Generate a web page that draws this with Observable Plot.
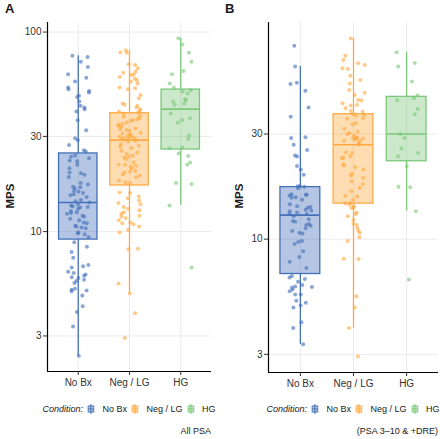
<!DOCTYPE html>
<html><head><meta charset="utf-8">
<script src="https://cdn.jsdelivr.net/npm/d3@7"></script>
<script src="https://cdn.jsdelivr.net/npm/@observablehq/plot@0.6"></script>
<style>
body{margin:0;background:#fff;font-family:"Liberation Sans",Arial,Helvetica,sans-serif;color:#1a1a1a}
#wrap{position:relative;width:440px;height:439px;overflow:hidden}
.panel{position:absolute;top:0;width:220px;height:439px}
.panel svg{position:absolute;left:0;top:0}
.tag{position:absolute;left:5px;top:1px;font-weight:bold;font-size:13px}
.ylab{position:absolute;top:196px;font-weight:bold;font-size:11.5px;transform:translate(-50%,-50%) rotate(-90deg);white-space:nowrap}
.legend{position:absolute;top:404px;transform:translateX(-50%);font-size:9px;white-space:nowrap;display:flex;align-items:center}
.legend i{font-style:italic}
.legend svg{position:static;margin:0 8px 0 4.5px}
.caption{position:absolute;top:426px;font-size:9px;white-space:nowrap}
</style></head>
<body><div id="wrap"></div>
<script>
const categories = ["No Bx", "Neg / LG", "HG"];
const colors = ["#4470B9", "#FFA940", "#7CC87A"];
const yTicksA = [3, 10, 30, 100];
const yTicksB = [3, 10, 30];
const captions = ["All PSA", "(PSA 3–10 & +DRE)"];

// Panel A (All PSA) — MPS values
const aNoBx = [76, 75, 71.1, 66.8, 61.4, 59.1, 56.5, 52.7, 51.7, 50.7, 49.8, 47.9, 47.3, 44.9, 42.7, 41.9, 41.0, 40.0, 36.1, 32.2,
  29.4, 28.7, 27.2, 25.6, 25.2, 24.1, 23.7, 23.3, 22.7, 22.5, 21.6, 20.8, 19.8, 19.6, 19.3, 18.8, 17.5, 17.2, 16.8, 16.7,
  16.5, 16.0, 15.9, 15.6, 15.4, 15.2, 14.9, 14.4, 14.2, 14.0, 13.7, 13.5, 13.4, 13.3, 13.2, 13.0, 12.7, 12.5, 12.4, 12.3,
  12.0, 11.9, 11.6, 11.4, 11.1, 11.0, 10.7, 10.6, 10.5, 10.4, 9.9, 9.8, 9.7, 9.4, 8.85, 8.4, 7.9, 7.4, 6.8, 6.7,
  6.6, 6.3, 6.2, 6.1, 6.0, 5.9, 5.86, 5.73, 5.65, 5.52, 5.17, 5.11, 5.07, 5.03, 4.79, 4.22, 3.95, 3.35, 2.39];
const aNegLG = [81.0, 79.1, 78.8, 68.9, 68.4, 65.8, 63.4, 62.6, 61.4, 60.9, 59.6, 58.6, 57.3, 56.5, 55.2, 52.7, 52.3, 51.7, 48.4, 46.6,
  43.8, 43.2, 42.7, 41.9, 41.0, 40.3, 40.0, 39.5, 39.1, 38.0, 37.6, 37.0, 36.6, 36.1, 35.9, 35.2, 34.6, 34.3, 33.9, 33.5,
  33.0, 32.6, 32.3, 32.0, 31.3, 31.0, 30.8, 30.5, 30.2, 30.0, 29.9, 29.6, 29.4, 29.2, 29.1, 29.0, 28.5, 28.3, 27.4, 26.9,
  26.6, 26.2, 25.4, 24.9, 24.5, 24.0, 23.7, 23.5, 23.1, 22.2, 21.6, 21.6, 21.4, 21.1, 20.8, 20.2, 20.0, 19.8, 19.4, 19.1,
  18.7, 18.0, 17.7, 17.5, 15.7, 15.6, 15.0, 14.7, 14.3, 13.9, 13.7, 13.3, 13.0, 12.8, 12.5, 12.3, 12.0, 11.9, 11.7, 11.4,
  11.1, 11.0, 10.9, 10.6, 10.2, 9.9, 8.2, 8.15, 5.5, 4.9, 3.9, 2.93];
const aHG = [93.0, 86.7, 78.8, 71.1, 63.8, 61.4, 55.2, 52.7, 51.1, 50.4, 49.2, 46.0, 45.5, 44.9, 43.8, 43.2, 39.1, 37.0, 36.1, 35.2,
  30.2, 29.1, 26.4, 26.2, 24.6, 23.9, 22.2, 21.6, 17.5, 17.3, 13.5, 6.6];

// Panel B (PSA 3–10 & +DRE)
const bNoBx = [75.5, 60.8, 51.3, 50.6, 47.1, 39.6, 35.9, 29.0, 28.8, 26.8, 25.4, 24.0, 23.7, 21.5, 20.7, 19.6, 17.4, 17.4, 17.3, 17.0,
  16.0, 15.9, 15.9, 15.8, 15.5, 15.4, 15.1, 14.4, 14.1, 14.0, 13.9, 13.6, 13.5, 13.4, 13.2, 13.0, 13.0, 12.7, 12.3, 12.1,
  12.0, 11.7, 11.6, 11.5, 11.2, 10.9, 10.7, 10.6, 9.8, 9.7, 9.5, 8.8, 8.3, 7.9, 7.4, 6.8, 6.7, 6.6, 6.4, 6.2,
  6.1, 6.07, 6.03, 5.9, 5.8, 5.6, 5.6, 5.25, 5.15, 5.0, 4.9, 4.2, 3.95, 3.33];
const bNegLG = [81.5, 68.0, 65.1, 62.8, 61.7, 59.6, 59.2, 55.2, 52.8, 50.9, 47.5, 46.2, 45.1, 42.8, 42.6, 41.4, 40.7, 40.4, 39.3, 38.2,
  37.9, 36.9, 36.6, 36.4, 35.4, 35.2, 33.6, 33.2, 31.7, 30.8, 30.3, 30.0, 29.6, 28.9, 28.8, 28.6, 28.6, 28.6, 28.3, 27.96,
  27.8, 27.3, 26.8, 24.8, 24.6, 23.8, 23.5, 23.3, 21.8, 21.6, 21.2, 20.7, 19.8, 19.5, 19.0, 18.3, 17.8, 17.1, 16.5, 15.7,
  15.6, 15.1, 14.6, 14.5, 14.4, 14.1, 13.9, 13.9, 13.2, 13.0, 12.7, 12.2, 11.7, 11.6, 11.2, 10.9, 10.7, 10.2, 9.8, 8.15,
  8.13, 5.5, 4.9, 3.95, 2.93];
const bHG = [70.5, 63.0, 60.8, 51.9, 44.9, 43.6, 42.7, 39.0, 36.9, 30.0, 28.8, 25.8, 24.6, 23.8, 21.4, 17.3, 17.2, 13.4, 6.55];

function boxStats(vals) {
  const l = vals.map(Math.log10).sort(d3.ascending);
  const q1 = d3.quantileSorted(l, 0.25), med = d3.quantileSorted(l, 0.5), q3 = d3.quantileSorted(l, 0.75);
  const iqr = q3 - q1;
  const lo = d3.min(l.filter(v => v >= q1 - 1.5 * iqr)), hi = d3.max(l.filter(v => v <= q3 + 1.5 * iqr));
  return {q1: 10 ** q1, median: 10 ** med, q3: 10 ** q3, lo: 10 ** lo, hi: 10 ** hi};
}

function panel(groups, ticks, m, seed) {
  const rng = d3.randomLcg(seed);
  const pts = [], stats = [];
  groups.forEach((vals, i) => {
    vals.forEach(v => pts.push({i, v, jx: (rng() * 2 - 1) * 0.22}));
    stats.push({i, ...boxStats(vals)});
  });
  const all = groups.flat().map(Math.log10);
  const [lmin, lmax] = d3.extent(all);
  const pad = (lmax - lmin) * 0.05;
  const ydom = [10 ** (lmin - pad), 10 ** (lmax + pad)];
  const col = d => colors[d.i];
  return Plot.plot({
    width: 220, height: 395,
    marginLeft: m.left, marginRight: m.right, marginTop: 22, marginBottom: m.bottom,
    x: {domain: [-0.6, 2.6]},
    y: {type: "log", domain: ydom},
    color: {type: "identity"},
    style: {fontFamily: "Liberation Sans, Arial, sans-serif", fontSize: "10px", background: "transparent", color: "#333", overflow: "visible"},
    marks: [
      Plot.ruleY(ticks, {stroke: "#ebebeb", strokeWidth: 1}),
      Plot.ruleX([0, 1, 2], {stroke: "#ebebeb", strokeWidth: 1}),
      Plot.ruleX(stats, {x: "i", y1: "lo", y2: "q1", stroke: col, strokeWidth: 1.3}),
      Plot.ruleX(stats, {x: "i", y1: "q3", y2: "hi", stroke: col, strokeWidth: 1.3}),
      Plot.rect(stats, {x1: d => d.i - 0.375, x2: d => d.i + 0.375, y1: "q1", y2: "q3", fill: col, fillOpacity: 0.4, stroke: col, strokeWidth: 1.3}),
      Plot.ruleY(stats, {y: "median", x1: d => d.i - 0.375, x2: d => d.i + 0.375, stroke: col, strokeWidth: 1.6}),
      Plot.dot(pts, {x: d => d.i + d.jx, y: "v", r: 2, fill: col, fillOpacity: 0.62, stroke: null}),
      Plot.ruleX([-0.6], {stroke: "#000", strokeWidth: 1.2}),
      Plot.ruleY([ydom[0]], {stroke: "#000", strokeWidth: 1.2}),
      Plot.axisY(ticks, {tickFormat: d => String(d), tickSize: 4, tickPadding: 2, label: null, color: "#333"}),
      Plot.axisX([0, 1, 2], {tickFormat: i => categories[i], tickSize: 4, tickPadding: 3, label: null, color: "#333"})
    ]
  });
}

function legendHTML() {
  let h = '<i>Condition:</i>';
  categories.forEach((c, i) => {
    const k = colors[i];
    h += `<svg width="7" height="10"><line x1="3.5" y1="0" x2="3.5" y2="10" stroke="${k}"/><rect x="0.5" y="2" width="6" height="6" fill="${k}" fill-opacity="0.4" stroke="${k}"/><line x1="0.5" y1="5" x2="6.5" y2="5" stroke="${k}" stroke-width="1.2"/></svg><span>${c}</span>`;
  });
  return h;
}

const wrap = document.getElementById("wrap");
const cfg = [
  {tag: "A", groups: [aNoBx, aNegLG, aHG], ticks: yTicksA, m: {left: 47, right: 9, bottom: 24}, ylabX: 10, seed: 7},
  {tag: "B", groups: [bNoBx, bNegLG, bHG], ticks: yTicksB, m: {left: 48, right: 2, bottom: 23}, ylabX: 19, seed: 11}
];
cfg.forEach((c, k) => {
  const p = document.createElement("div");
  p.className = "panel";
  p.style.left = (k * 220) + "px";
  p.appendChild(panel(c.groups, c.ticks, c.m, c.seed));
  const tag = document.createElement("div"); tag.className = "tag"; tag.textContent = c.tag; p.appendChild(tag);
  const yl = document.createElement("div"); yl.className = "ylab"; yl.textContent = "MPS"; yl.style.left = c.ylabX + "px"; p.appendChild(yl);
  const lg = document.createElement("div"); lg.className = "legend"; lg.innerHTML = legendHTML();
  const cx = c.m.left + (220 - c.m.left - c.m.right) / 2;
  lg.style.left = cx + "px"; p.appendChild(lg);
  const cap = document.createElement("div"); cap.className = "caption"; cap.textContent = captions[k];
  cap.style.right = c.m.right + "px"; p.appendChild(cap);
  wrap.appendChild(p);
});
</script></body></html>
